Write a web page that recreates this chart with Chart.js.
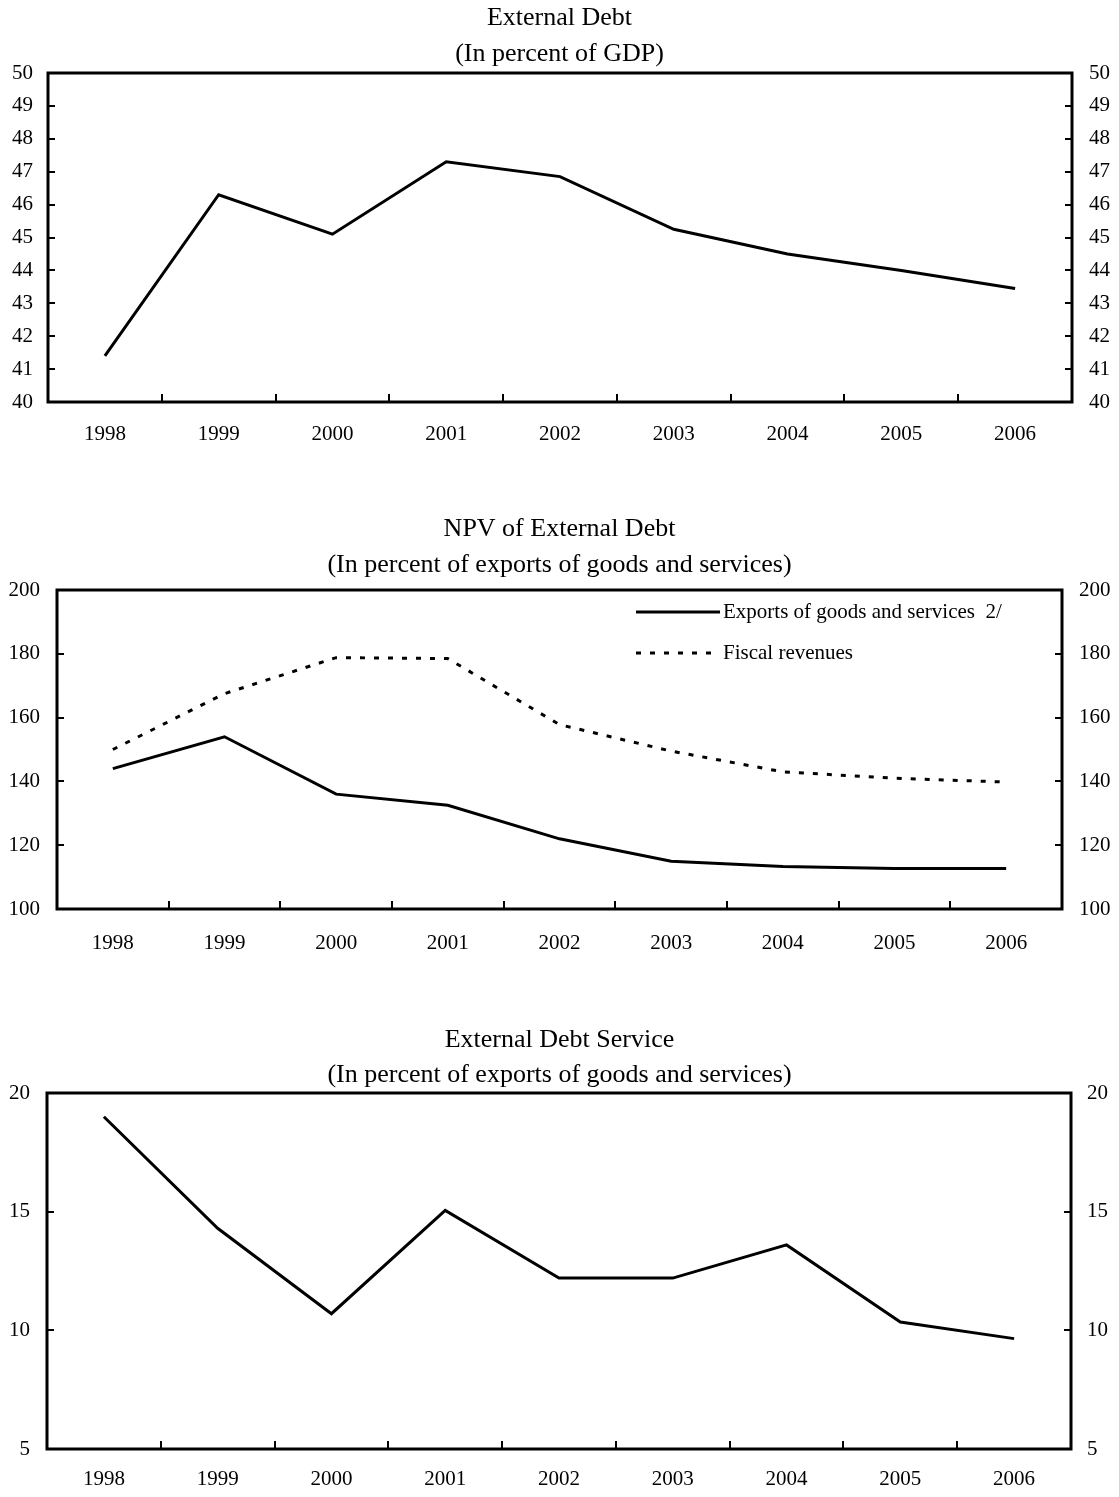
<!DOCTYPE html>
<html>
<head>
<meta charset="utf-8">
<script src="https://cdn.jsdelivr.net/npm/chart.js@4.4.1/dist/chart.umd.min.js"></script>
<style>
html, body { margin: 0; padding: 0; background: #fff; }
body { width: 1119px; height: 1497px; position: relative; overflow: hidden; }
canvas { position: absolute; left: 0; display: block; }
</style>
</head>
<body>
<canvas id="c1" width="1119" height="475" style="top:0px"></canvas>
<canvas id="c2" width="1119" height="460" style="top:505px"></canvas>
<canvas id="c3" width="1119" height="487" style="top:1010px"></canvas>
<script>
// ---------------- data ----------------
const years = ['1998', '1999', '2000', '2001', '2002', '2003', '2004', '2005', '2006'];

const debtToGDP = [41.4, 46.3, 45.1, 47.3, 46.85, 45.25, 44.5, 44.0, 43.45];

const npvToExports = [144, 154, 136, 132.5, 122, 115, 113.3, 112.7, 112.7];
const npvToFiscal = [150, 167.5, 178.8, 178.5, 157.8, 149.5, 143, 141, 139.8];

const debtServiceToExports = [19.0, 14.3, 10.7, 15.05, 12.2, 12.2, 13.6, 10.35, 9.65];

const title1 = ['External Debt', '(In percent of GDP)'];
const title2 = ['NPV of External Debt', '(In percent of exports of goods and services)'];
const title3 = ['External Debt Service', '(In percent of exports of goods and services)'];

const legendLabels2 = ['Exports of goods and services  2/', 'Fiscal revenues'];

const range1 = { min: 40, max: 50, step: 1 };
const range2 = { min: 100, max: 200, step: 20 };
const range3 = { min: 5, max: 20, step: 5 };

// ---------------- helpers ----------------
const FONT = "'Liberation Serif', 'Times New Roman', serif";

const frameTicks = {
  id: 'frameTicks',
  afterDatasetsDraw(chart) {
    const { ctx, chartArea: a, scales } = chart;
    ctx.save();
    ctx.strokeStyle = '#000';
    ctx.lineWidth = 2;
    const x = scales.x;
    const n = x.ticks.length;
    for (let i = 0; i < n - 1; i++) {
      const px = Math.round((x.getPixelForTick(i) + x.getPixelForTick(i + 1)) / 2);
      ctx.beginPath();
      ctx.moveTo(px, a.bottom);
      ctx.lineTo(px, a.bottom - 8);
      ctx.stroke();
    }
    ['y', 'y2'].forEach(id => {
      const s = scales[id];
      s.ticks.forEach(t => {
        if (t.value === s.min || t.value === s.max) return;
        const py = Math.round(s.getPixelForValue(t.value));
        ctx.beginPath();
        if (s.position === 'left') { ctx.moveTo(a.left, py); ctx.lineTo(a.left + 7, py); }
        else { ctx.moveTo(a.right, py); ctx.lineTo(a.right - 7, py); }
        ctx.stroke();
      });
    });
    ctx.lineWidth = 3;
    ctx.strokeRect(a.left, a.top, a.right - a.left, a.bottom - a.top);
    ctx.restore();
  }
};

const innerLegend = {
  id: 'innerLegend',
  afterDatasetsDraw(chart, args, opts) {
    if (!opts || !opts.display) return;
    const { ctx, chartArea: a } = chart;
    ctx.save();
    ctx.font = opts.font;
    ctx.fillStyle = '#000';
    ctx.textBaseline = 'middle';
    ctx.textAlign = 'left';
    chart.data.datasets.forEach((ds, i) => {
      const y = a.top + opts.top + i * opts.rowGap;
      const x0 = a.right - opts.fromRight;
      ctx.strokeStyle = ds.borderColor;
      ctx.lineWidth = ds.borderWidth;
      ctx.setLineDash(ds.borderDash || []);
      ctx.beginPath();
      ctx.moveTo(x0, y);
      ctx.lineTo(x0 + opts.lineLen, y);
      ctx.stroke();
      ctx.setLineDash([]);
      ctx.fillText(ds.label, x0 + opts.lineLen + 3, y);
    });
    ctx.restore();
  }
};

function yScale(pos, r, pad, width) {
  return {
    type: 'linear', position: pos, min: r.min, max: r.max,
    ticks: { stepSize: r.step, padding: pad, color: '#000', font: { family: FONT, size: 21 } },
    grid: { display: false, drawTicks: false },
    border: { display: false },
    afterFit: s => { s.width = width; }
  };
}

function xScale(pad, height) {
  return {
    type: 'category', offset: true,
    grid: { display: false, drawTicks: false },
    border: { display: false },
    ticks: { padding: pad, color: '#000', font: { family: FONT, size: 21 }, maxRotation: 0, autoSkip: false },
    afterFit: s => { s.height = height; }
  };
}

function makeChart(id, datasets, title, tpad, lh, scales, extraPlugins, legendOpts) {
  return new Chart(document.getElementById(id), {
    type: 'line',
    data: { labels: years, datasets },
    options: {
      responsive: false,
      animation: false,
      layout: { padding: 0 },
      elements: { point: { radius: 0 }, line: { tension: 0 } },
      plugins: {
        legend: { display: false },
        tooltip: { enabled: false },
        title: {
          display: true, text: title, color: '#000',
          font: { family: FONT, size: 26, weight: 'normal', lineHeight: lh / 26 },
          padding: tpad
        },
        innerLegend: legendOpts || { display: false }
      },
      scales
    },
    plugins: [frameTicks, innerLegend]
  });
}

const lineStyle = { borderColor: '#000', borderWidth: 3, pointRadius: 0, fill: false, yAxisID: 'y' };

// Chart 1
makeChart('c1',
  [Object.assign({ label: 'External debt', data: debtToGDP }, lineStyle)],
  title1, { top: 0, bottom: 1 }, 36,
  { x: xScale(20, 73), y: yScale('left', range1, 15, 48), y2: yScale('right', range1, 17, 47) });

// Chart 2
makeChart('c2',
  [Object.assign({ label: legendLabels2[0], data: npvToExports }, lineStyle),
   Object.assign({ label: legendLabels2[1], data: npvToFiscal, borderDash: [5, 9] }, lineStyle)],
  title2, { top: 6, bottom: 7 }, 36,
  { x: xScale(22, 56), y: yScale('left', range2, 17, 57), y2: yScale('right', range2, 17, 57) },
  null,
  { display: true, font: "21px " + FONT, top: 22, rowGap: 41, fromRight: 426, lineLen: 84 });

// Chart 3
makeChart('c3',
  [Object.assign({ label: 'Debt service', data: debtServiceToExports }, lineStyle)],
  title3, { top: 13, bottom: 0 }, 35,
  { x: xScale(18, 48), y: yScale('left', range3, 17, 47), y2: yScale('right', range3, 16, 48) });
</script>
</body>
</html>
